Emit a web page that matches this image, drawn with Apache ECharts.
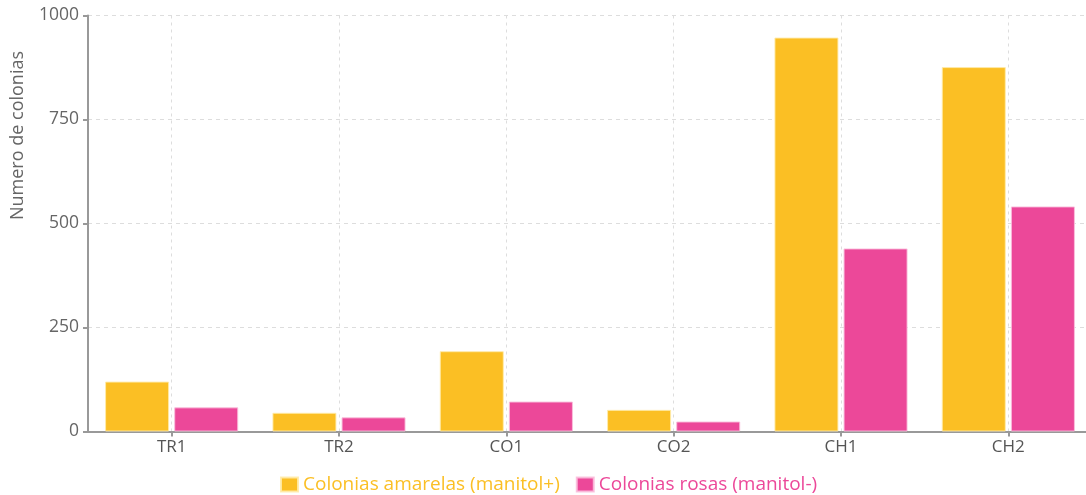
<!DOCTYPE html>
<html>
<head>
<meta charset="utf-8">
<script src="https://cdn.jsdelivr.net/npm/echarts@6/dist/echarts.min.js"></script>
<style>
html,body{margin:0;padding:0;background:#fff;}
#chart{width:1086px;height:495px;}
</style>
</head>
<body>
<div id="chart"></div>
<script>
const categories = ['TR1', 'TR2', 'CO1', 'CO2', 'CH1', 'CH2'];
const amarelas = [120, 45, 193, 52, 947, 876];
const rosas = [58, 34, 72, 24, 440, 541];
const yTicks = [0, 250, 500, 750, 1000];
const seriesNames = ['Colonias amarelas (manitol+)', 'Colonias rosas (manitol-)'];
const yAxisName = 'Numero de colonias';

const FONT = '"Open Sans", "Noto Sans", sans-serif';
const chart = echarts.init(document.getElementById('chart'), null, {renderer: 'canvas'});
chart.setOption({
  animation: false,
  textStyle: {fontFamily: FONT},
  grid: {left: 88, top: 15.5, width: 1004, height: 416, containLabel: false, outerBoundsMode: 'none'},
  legend: {
    data: [
      {name: seriesNames[0], textStyle: {color: '#FBBF24'}},
      {name: seriesNames[1], textStyle: {color: '#EC4899'}}
    ],
    top: 475,
    left: 280,
    icon: 'rect',
    itemWidth: 17,
    itemHeight: 14,
    itemGap: 16,
    padding: 0,
    textStyle: {fontSize: 19, fontFamily: FONT}
  },
  xAxis: {
    type: 'category',
    data: categories,
    axisLine: {lineStyle: {color: '#999', width: 2}},
    axisTick: {show: true, alignWithLabel: true, length: 5, lineStyle: {color: '#999', width: 2}},
    axisLabel: {color: '#555', fontSize: 17, margin: 7, fontFamily: FONT},
    splitLine: {show: true, alignWithLabel: true, lineStyle: {color: '#ddd', type: [3, 4], width: 1}}
  },
  yAxis: {
    type: 'value',
    min: 0,
    max: yTicks[yTicks.length - 1],
    interval: yTicks[1] - yTicks[0],
    name: yAxisName,
    nameLocation: 'middle',
    nameGap: 61,
    nameTextStyle: {color: '#666', fontSize: 18, fontFamily: FONT, padding: [0, 0, 0, 176]},
    axisLine: {show: true, lineStyle: {color: '#999', width: 2}},
    axisTick: {show: true, length: 5, lineStyle: {color: '#999', width: 2}},
    axisLabel: {color: '#666', fontSize: 17.5, margin: 9, fontFamily: FONT, formatter: v => String(v)},
    splitLine: {show: true, lineStyle: {color: '#ddd', type: [4, 4], width: 1}}
  },
  series: [
    {
      name: seriesNames[0],
      type: 'bar',
      data: amarelas,
      barWidth: 64,
      barGap: '8%',
      itemStyle: {color: '#FBBF24', borderColor: 'rgba(255,235,170,0.9)', borderWidth: 1}
    },
    {
      name: seriesNames[1],
      type: 'bar',
      data: rosas,
      barWidth: 64,
      barGap: '8%',
      itemStyle: {color: '#EC4899', borderColor: 'rgba(250,190,220,0.9)', borderWidth: 1}
    }
  ]
});
</script>
</body>
</html>
